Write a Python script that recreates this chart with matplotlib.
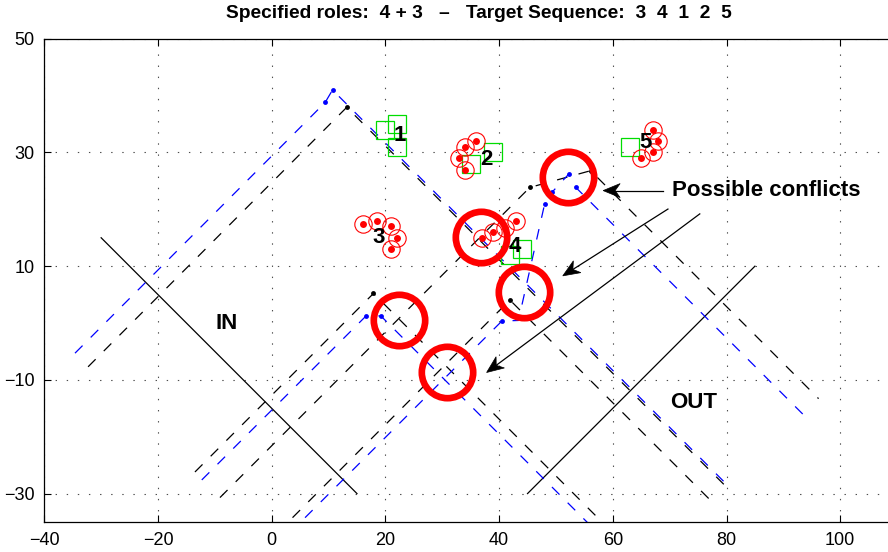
import matplotlib
matplotlib.use("Agg")
import numpy as np
import matplotlib.pyplot as plt
from matplotlib.patches import Polygon

plt.rcParams['font.family'] = ['Liberation Sans', 'DejaVu Sans']
plt.rcParams['lines.scale_dashes'] = False

# ---------------- data ----------------
title_text = "Specified roles:  4 + 3   \u2013   Target Sequence:  3  4  1  2  5"

x_ticks = [-40, -20, 0, 20, 40, 60, 80, 100]
y_ticks = [-30, -10, 10, 30, 50]

# entry / exit boundaries
in_x = [-30, 15]
in_y = [15, -30]
out_x = [45, 85]
out_y = [-30, 10]

# planned tracks (black) and flown tracks (blue)
plan_a_x = [-32.3, 13.2, 80.2]
plan_a_y = [-7.7, 37.95, -29.05]
fly_a_x = [-34.6, 9.4, 10.7, 80.5]
fly_a_y = [-5.3, 38.8, 41.0, -28.85]

plan_b_x = [-13.5, 17.9, 60.1]
plan_b_y = [-26.2, 5.2, -37.0]
fly_b_x = [-12.3, 16.6, 19.2, 57.45]
fly_b_y = [-27.6, 1.25, 1.25, -37.0]

plan_c_x = [-9.1, 45.4, 56.1, 96.2]
plan_c_y = [-30.7, 23.85, 26.8, -13.3]

plan_d_x = [0.9, 41.9, 77.7]
plan_d_y = [-37.0, 4.05, -31.7]
fly_d_x = [3.1, 40.5, 43.4, 48.0, 49.3, 52.25, 53.5, 93.6]
fly_d_y = [-37.0, 0.36, 0.45, 20.9, 23.0, 26.2, 23.85, -16.2]

# waypoints marked with dots
plan_dot_x = [13.2, 17.9, 45.4, 56.1, 41.9]
plan_dot_y = [37.95, 5.2, 23.85, 26.8, 4.05]
fly_dot_x = [9.4, 10.7, 16.6, 19.2, 40.5, 48.0, 49.3, 52.25, 53.5]
fly_dot_y = [38.8, 41.0, 1.25, 1.25, 0.36, 20.9, 23.0, 26.2, 23.85]

# agents (red) grouped by target
agent_x = [36, 34, 33, 34,
           16, 18.5, 21, 22, 21,
           37, 39, 41, 43,
           67, 68, 67, 65]
agent_y = [32, 31, 29, 27,
           17.5, 18, 17, 15, 13,
           15, 16, 16.7, 18,
           34, 32, 30, 29]

# target cells (green squares)
cell_x = [20, 22, 22, 39, 35, 42, 44, 63]
cell_y = [34, 35, 31, 30, 28, 12, 13, 31]

# target numbers
target_ids = ["1", "2", "3", "4", "5"]
target_lx = [22.6, 37.8, 18.75, 42.7, 65.7]
target_ly = [33.0, 28.8, 15.0, 13.4, 31.8]

# conflict zones
conflict_x = [52.1, 36.8, 44.3, 22.4, 30.9]
conflict_y = [25.7, 15.05, 5.45, 0.6, -8.6]

# annotation arrows: (tail, tip)
arrow_tail = [(68.8, 23.3), (69.7, 20.05), (75.3, 19.2)]
arrow_tip = [(58.3, 23.3), (51.2, 8.3), (37.8, -8.7)]
note_text = "Possible conflicts"
note_x, note_y = 70.5, 23.35

# ---------------- figure ----------------
W, H = 888, 552
fig = plt.figure(figsize=(W / 100, H / 100), dpi=100)
left_px, right_px, top_px, bot_px = 44.3, 888.0, 38.8, 522.0
ax = fig.add_axes([left_px / W, (H - bot_px) / H,
                   (right_px - left_px) / W, (bot_px - top_px) / H])
ax.set_xlim(-40, -40 + (right_px - left_px) / 5.685)
ax.set_ylim(-35, 50)
ax.set_xticks(x_ticks)
ax.set_yticks(y_ticks)
ax.tick_params(direction='in', length=5, width=0.8, top=True, right=False,
               labelsize=13, pad=7, colors='black')
ax.spines['right'].set_visible(False)
for s in ['left', 'top', 'bottom']:
    ax.spines[s].set_linewidth(0.9)
ax.set_axisbelow(True)
ax.grid(True, linestyle=(0, (1, 7)), color='0.3', linewidth=0.8)

dash = (0, (7.7, 8.3))
lw = 0.9
# boundaries
ax.plot(in_x, in_y, color='black', lw=0.9)
ax.plot(out_x, out_y, color='black', lw=0.9)

# planned tracks
for xs, ys in [(plan_a_x, plan_a_y), (plan_b_x, plan_b_y),
               (plan_c_x, plan_c_y), (plan_d_x, plan_d_y)]:
    ax.plot(xs, ys, color='black', lw=lw, linestyle=dash)
# flown tracks
for xs, ys in [(fly_a_x, fly_a_y), (fly_b_x, fly_b_y), (fly_d_x, fly_d_y)]:
    ax.plot(xs, ys, color='blue', lw=lw, linestyle=dash)

ax.plot(plan_dot_x, plan_dot_y, 'o', color='black', ms=3.5, mew=0)
ax.plot(fly_dot_x, fly_dot_y, 'o', color='blue', ms=3.5, mew=0)

# targets
ax.plot(cell_x, cell_y, 's', ms=13, mfc='none', mec='#00dd00', mew=0.9)
for t, lx, ly in zip(target_ids, target_lx, target_ly):
    ax.text(lx, ly, t, fontsize=16, fontweight='bold', ha='center', va='center')

# agents
ax.plot(agent_x, agent_y, 'o', ms=12.5, mfc='none', mec='red', mew=0.8)
ax.plot(agent_x, agent_y, 'o', color='red', ms=5, mew=0)

# conflicts
ax.plot(conflict_x, conflict_y, 'o', ms=37, mfc='none', mec='red', mew=4.8,
        zorder=5)

# labels
ax.text(-7.9, 0.0, "IN", fontsize=16, fontweight='bold', ha='center', va='center')
ax.text(74.3, -14.0, "OUT", fontsize=16, fontweight='bold', ha='center', va='center')
ax.text(note_x, note_y, note_text, fontsize=16, fontweight='bold',
        ha='left', va='center')

# arrows with notched heads
inv = ax.transData.inverted()
head_len, head_half, notch = 17.0, 7.0, 5.0
for tail, tip in zip(arrow_tail, arrow_tip):
    p_tail = ax.transData.transform(tail)
    p_tip = ax.transData.transform(tip)
    u = (p_tip - p_tail) / np.hypot(*(p_tip - p_tail))
    n = np.array([-u[1], u[0]])
    base = p_tip - head_len * u
    inner = p_tip - (head_len - notch) * u
    shaft = inv.transform(np.array([p_tail, inner]))
    ax.plot(shaft[:, 0], shaft[:, 1], color='black', lw=0.9, zorder=6)
    head = inv.transform(np.array([p_tip, base + head_half * n, inner,
                                   base - head_half * n]))
    ax.add_patch(Polygon(head, closed=True, facecolor='black',
                         edgecolor='black', lw=0.5, zorder=6))

fig.text(479 / W, 1 - 13.5 / H, title_text, fontsize=13.8, fontweight='bold',
         ha='center', va='center')

fig.savefig("out.png", dpi=100)
